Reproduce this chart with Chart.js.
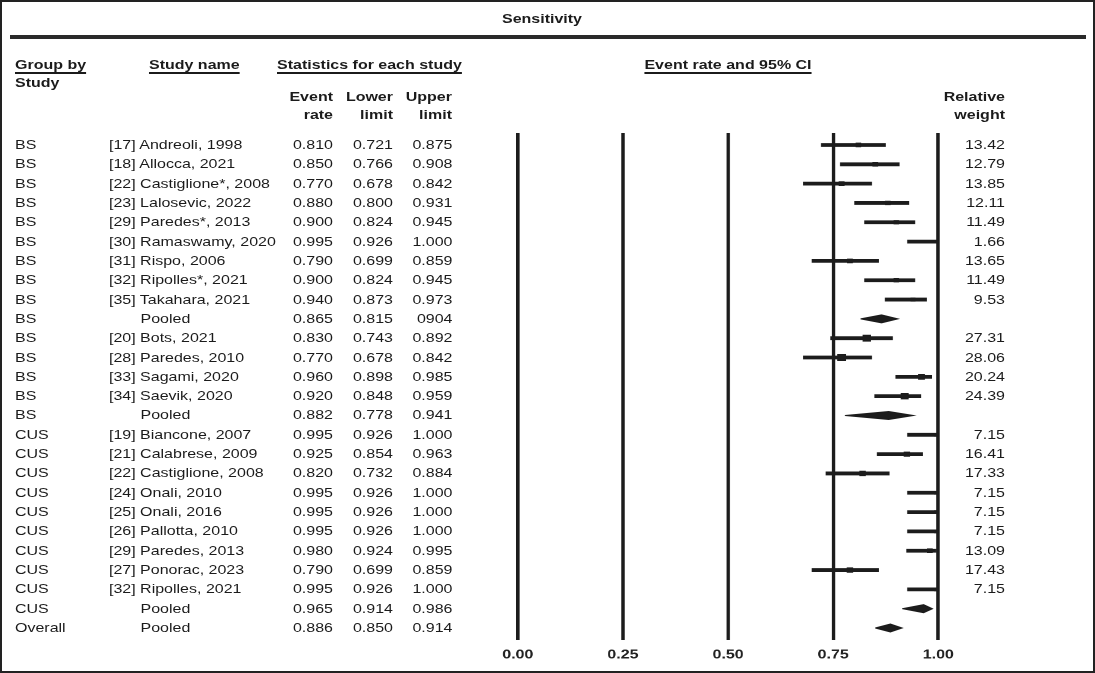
<!DOCTYPE html>
<html>
<head>
<meta charset="utf-8">
<script src="https://cdn.jsdelivr.net/npm/chart.js@4.4.1/dist/chart.umd.min.js"></script>
<style>
  html, body { margin: 0; padding: 0; background: #fff; }
  body { width: 1095px; height: 673px; overflow: hidden; position: relative;
         font-family: 'Liberation Sans', Arial, Helvetica, sans-serif; color: #1b1b1b; }
  #frame { position: absolute; left: 0; top: 0; width: 1095px; height: 673px;
           border: 2px solid #222; box-sizing: border-box; }
  #rule { position: absolute; left: 10px; top: 35px; width: 1076px; height: 4px; background: #2a2a2a; }
  #stage { position: absolute; left: 0; top: 0; width: 890px; height: 673px;
           transform-origin: 0 0; }
  #stage canvas { position: absolute; left: 0; top: 0; }
  .t { position: absolute; white-space: nowrap; font-size: 13px; line-height: 16px; height: 16px; }
  .b { font-weight: bold; }
  .u { text-decoration: underline; text-decoration-thickness: 1.5px; text-underline-offset: 3px; }
</style>
</head>
<body>
<div id="frame"></div>
<div id="rule"></div>
<div id="stage"><canvas id="c" width="890" height="673"></canvas></div>
<script>
// ---------------- DATA ----------------
const groups = ['BS','BS','BS','BS','BS','BS','BS','BS','BS','BS',
                'BS','BS','BS','BS','BS',
                'CUS','CUS','CUS','CUS','CUS','CUS','CUS','CUS','CUS','CUS',
                'Overall'];
const studyNames = ['[17] Andreoli, 1998','[18] Allocca, 2021','[22] Castiglione*, 2008','[23] Lalosevic, 2022',
                    '[29] Paredes*, 2013','[30] Ramaswamy, 2020','[31] Rispo, 2006','[32] Ripolles*, 2021',
                    '[35] Takahara, 2021','Pooled',
                    '[20] Bots, 2021','[28] Paredes, 2010','[33] Sagami, 2020','[34] Saevik, 2020','Pooled',
                    '[19] Biancone, 2007','[21] Calabrese, 2009','[22] Castiglione, 2008','[24] Onali, 2010',
                    '[25] Onali, 2016','[26] Pallotta, 2010','[29] Paredes, 2013','[27] Ponorac, 2023',
                    '[32] Ripolles, 2021','Pooled',
                    'Pooled'];
const eventRate  = [0.810,0.850,0.770,0.880,0.900,0.995,0.790,0.900,0.940,0.865,
                    0.830,0.770,0.960,0.920,0.882,
                    0.995,0.925,0.820,0.995,0.995,0.995,0.980,0.790,0.995,0.965,
                    0.886];
const lowerLimit = [0.721,0.766,0.678,0.800,0.824,0.926,0.699,0.824,0.873,0.815,
                    0.743,0.678,0.898,0.848,0.778,
                    0.926,0.854,0.732,0.926,0.926,0.926,0.924,0.699,0.926,0.914,
                    0.850];
const upperLimit = [0.875,0.908,0.842,0.931,0.945,1.000,0.859,0.945,0.973,0.904,
                    0.892,0.842,0.985,0.959,0.941,
                    1.000,0.963,0.884,1.000,1.000,1.000,0.995,0.859,1.000,0.986,
                    0.914];
const upperTextOverride = { 9: '0904' };   // as printed in the source table
const relWeight  = ['13.42','12.79','13.85','12.11','11.49','1.66','13.65','11.49','9.53','',
                    '27.31','28.06','20.24','24.39','',
                    '7.15','16.41','17.33','7.15','7.15','7.15','13.09','17.43','7.15','',
                    ''];
const xTicks      = [0, 0.25, 0.5, 0.75, 1.0];
const xTickLabels = ['0.00','0.25','0.50','0.75','1.00'];

// ---------------- LAYOUT ----------------
const W = 890, H = 673, S = 1095 / W;
const stage = document.getElementById('stage');
stage.style.transform = 'scaleX(' + S + ')';
const FONT = "'Liberation Sans', Arial, Helvetica, sans-serif";
const rowY0 = 145, rowStep = 19.32;
const nRows = studyNames.length;
const isPooled = i => studyNames[i] === 'Pooled';

function addText(txt, x, y, align, cls) {
  const d = document.createElement('div');
  d.className = 't ' + (cls || '');
  d.textContent = txt;
  d.style.top = (y - 8) + 'px';
  const ux = x / S;
  if (align === 'right') { d.style.left = (ux - 300) + 'px'; d.style.width = '300px'; d.style.textAlign = 'right'; }
  else if (align === 'center') { d.style.left = (ux - 300) + 'px'; d.style.width = '600px'; d.style.textAlign = 'center'; }
  else { d.style.left = ux + 'px'; }
  stage.appendChild(d);
}

// title & headers
addText('Sensitivity', 542, 19, 'center', 'b');
addText('Group by', 15, 65, 'left', 'b u');
addText('Study', 15, 82.5, 'left', 'b');
addText('Study name', 149, 65, 'left', 'b u');
addText('Statistics for each study', 277, 65, 'left', 'b u');
addText('Event', 333, 96.5, 'right', 'b');
addText('rate', 333, 115, 'right', 'b');
addText('Lower', 393, 96.5, 'right', 'b');
addText('limit', 393, 115, 'right', 'b');
addText('Upper', 452, 96.5, 'right', 'b');
addText('limit', 452, 115, 'right', 'b');
addText('Event rate and 95% CI', 728, 65, 'center', 'b u');
addText('Relative', 1005, 96.5, 'right', 'b');
addText('weight', 1005, 115, 'right', 'b');

// table rows
for (let i = 0; i < nRows; i++) {
  const y = rowY0 + i * rowStep;
  addText(groups[i], 15, y, 'left');
  addText(studyNames[i], isPooled(i) ? 140.5 : 109, y, 'left');
  addText(eventRate[i].toFixed(3), 333, y, 'right');
  addText(lowerLimit[i].toFixed(3), 393, y, 'right');
  addText(upperTextOverride[i] || upperLimit[i].toFixed(3), 452.5, y, 'right');
  if (relWeight[i]) addText(relWeight[i], 1005, y, 'right');
}

// ---------------- CHART ----------------
const INK = '#1c1c1c';
const datasets = [];
const studyIdx = [], pooledIdx = [];
for (let i = 0; i < nRows; i++) (isPooled(i) ? pooledIdx : studyIdx).push(i);

studyIdx.forEach(i => {
  datasets.push({
    type: 'scatter', showLine: true,
    data: [{ x: lowerLimit[i], y: i }, { x: upperLimit[i], y: i }],
    borderColor: INK, borderWidth: 3.8, pointRadius: 0, borderCapStyle: 'butt'
  });
});
datasets.push({
  type: 'scatter',
  data: studyIdx.map(i => ({ x: eventRate[i], y: i })),
  pointStyle: 'rect',
  pointRadius: ctx => (2.5 + parseFloat(relWeight[studyIdx[ctx.dataIndex]]) * 0.16) / 1.414,
  backgroundColor: INK, borderWidth: 0
});
const dh = 4 / rowStep;
pooledIdx.forEach(i => {
  datasets.push({
    type: 'scatter', showLine: true, fill: 'shape',
    data: [{ x: lowerLimit[i], y: i }, { x: eventRate[i], y: i - dh },
           { x: upperLimit[i], y: i }, { x: eventRate[i], y: i + dh },
           { x: lowerLimit[i], y: i }],
    borderColor: INK, backgroundColor: INK, borderWidth: 1, pointRadius: 0, tension: 0
  });
});

const padTop = 133, axisH = 33;
new Chart(document.getElementById('c'), {
  type: 'scatter',
  data: { datasets },
  options: {
    responsive: false, animation: false, devicePixelRatio: 2,
    layout: { padding: { left: 517.8 / S, right: W - 938.3 / S, top: padTop, bottom: H - 640 - axisH } },
    plugins: { legend: { display: false }, tooltip: { enabled: false } },
    scales: {
      x: {
        type: 'linear', min: 0, max: 1,
        afterBuildTicks: s => { s.ticks = xTicks.map(v => ({ value: v })); },
        afterFit: s => { s.height = axisH; },
        ticks: { callback: (v, idx) => xTickLabels[idx], padding: 7, autoSkip: false, maxRotation: 0,
                 color: '#222', font: { family: FONT, size: 13, weight: 'bold' } },
        grid: { color: INK, lineWidth: 2.8, drawTicks: false },
        border: { display: false }
      },
      y: { type: 'linear', min: -0.62, max: nRows - 1 + 0.62, reverse: true, display: false }
    }
  }
});
</script>
</body>
</html>
